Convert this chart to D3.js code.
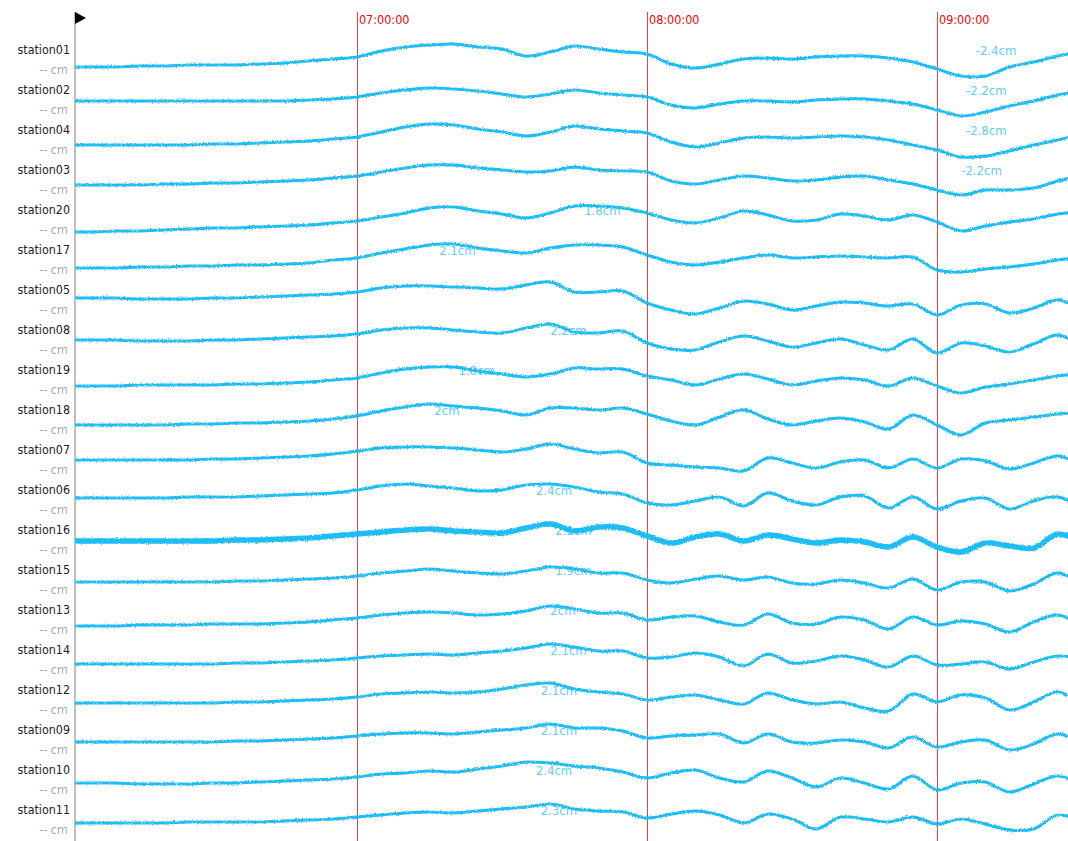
<!DOCTYPE html>
<html>
<head>
<meta charset="utf-8">
<script src="https://cdn.jsdelivr.net/npm/d3@7"></script>
<style>
  body { margin: 0; background: #fff; }
  svg { display: block; font-family: "DejaVu Sans Condensed", "DejaVu Sans", sans-serif; }
</style>
</head>
<body>
<svg id="chart" width="1068" height="841"></svg>
<script>
const stations = ["station01", "station02", "station04", "station03", "station20", "station17", "station05",
  "station08", "station19", "station18", "station07", "station06", "station16", "station15", "station13",
  "station14", "station12", "station09", "station10", "station11"];

// one sample every 5 minutes, 06:00 -> 09:30
const sampleTimes = ["06:00", "06:05", "06:10", "06:15", "06:20", "06:25", "06:30", "06:35", "06:40", "06:45",
  "06:50", "06:55", "07:00", "07:05", "07:10", "07:15", "07:20", "07:25", "07:30", "07:35", "07:40", "07:45",
  "07:50", "07:55", "08:00", "08:05", "08:10", "08:15", "08:20", "08:25", "08:30", "08:35", "08:40", "08:45",
  "08:50", "08:55", "09:00", "09:05", "09:10", "09:15", "09:20", "09:25", "09:30"];

// displacement per station (same order as sampleTimes)
const station01 = [-1, -1, -1, 0, 0, 1, 1, 1, 2, 3, 5, 7, 9, 15, 19, 21, 22, 19, 17, 10, 14, 20, 17, 14, 12, 2, -2, 2, 7, 8, 7, 9, 10, 10, 8, 4, -3, -10, -10, -1, 4, 10, 15];
const station02 = [5, 5, 5, 5, 5, 5, 5, 5, 5, 5, 6, 7, 9, 13, 16, 18, 17, 15, 12, 9, 12, 16, 13, 11, 9, 1, -2, 2, 5, 5, 4, 6, 7, 7, 5, 2, -4, -10, -6, 0, 5, 11, 15];
const station04 = [1, 1, 1, 1, 1, 1, 2, 2, 3, 4, 5, 7, 9, 14, 19, 22, 21, 17, 14, 10, 14, 20, 17, 15, 13, 4, -1, 3, 8, 9, 8, 9, 10, 9, 6, 1, -4, -11, -10, -5, 1, 6, 12];
const station03 = [1, 1, 1, 1, 2, 2, 3, 3, 4, 5, 6, 8, 10, 14, 18, 21, 21, 18, 16, 14, 15, 19, 16, 15, 14, 5, 2, 6, 10, 8, 5, 6, 9, 10, 6, 2, -4, -9, -4, -4, -2, 5, 11];
const station20 = [-6, -6, -5, -5, -4, -3, -2, -2, -1, 0, 1, 3, 5, 9, 13, 18, 19, 15, 12, 8, 13, 20, 20, 18, 13, 6, 3, 8, 15, 11, 5, 6, 12, 10, 6, 11, 4, -5, 0, 4, 7, 12, 14];
const station17 = [-2, -2, -2, -1, -1, 0, 0, 1, 1, 2, 3, 6, 8, 13, 17, 21, 22, 18, 15, 13, 18, 21, 21, 19, 11, 4, 1, 4, 8, 11, 8, 9, 10, 9, 8, 9, -4, -6, -3, -1, 2, 6, 9];
const station05 = [8, 8, 8, 7, 7, 7, 8, 8, 9, 10, 11, 12, 14, 18, 20, 20, 19, 18, 17, 21, 24, 14, 14, 15, 3, -4, -8, -2, 5, 2, -4, 0, 4, 3, 0, 2, -9, 1, 2, -7, -2, 6, -5];
const station08 = [6, 6, 6, 5, 5, 5, 6, 6, 7, 8, 9, 10, 12, 16, 18, 18, 16, 14, 13, 18, 22, 14, 13, 15, 3, -3, -4, 4, 10, 5, -1, 3, 7, 1, -4, 7, -7, 3, 0, -6, 2, 11, -1];
const station19 = [0, 0, 0, 1, 1, 1, 1, 2, 2, 3, 4, 6, 8, 13, 17, 19, 19, 15, 12, 9, 12, 18, 17, 17, 10, 6, 1, 7, 12, 7, 1, 5, 8, 6, 0, 8, 0, -7, -1, 2, 6, 10, 12];
const station18 = [1, 1, 1, 1, 1, 2, 2, 3, 3, 4, 5, 7, 10, 15, 19, 22, 20, 18, 15, 11, 18, 18, 16, 18, 12, 5, 1, 9, 16, 7, 1, 5, 8, 4, -3, 11, 1, -9, 3, 6, 9, 12, 14];
const station07 = [6, 6, 6, 6, 6, 6, 7, 7, 8, 9, 10, 12, 15, 18, 19, 19, 18, 16, 14, 17, 22, 17, 13, 14, 3, 1, -1, -2, -5, 8, 3, -2, 4, 6, -2, 7, -2, 7, 5, -3, 3, 10, 0];
const station06 = [8, 8, 8, 8, 8, 9, 9, 9, 10, 11, 12, 13, 16, 20, 22, 20, 18, 15, 16, 21, 22, 19, 14, 12, 3, 1, 5, 9, 0, 13, 5, 1, 9, 10, -2, 9, -3, 5, 8, -3, 5, 9, -2];
const station16 = [5, 5, 5, 5, 5, 5, 5, 6, 6, 7, 8, 10, 12, 14, 16, 17, 15, 14, 13, 18, 22, 15, 19, 18, 10, 3, 9, 12, 5, 11, 7, 3, 6, 4, -1, 9, -1, -6, 3, 0, -2, 12, 3];
const station15 = [4, 4, 4, 4, 4, 4, 4, 5, 5, 6, 7, 8, 10, 13, 15, 17, 15, 13, 12, 15, 19, 17, 13, 13, 6, 3, 7, 10, 6, 9, 3, 2, 6, 3, -2, 7, -4, 4, 4, -5, 2, 13, 1];
const station13 = [0, 0, 0, 1, 1, 1, 2, 2, 2, 3, 4, 6, 8, 11, 13, 14, 13, 11, 12, 15, 20, 17, 13, 13, 6, 9, 10, 4, 1, 12, 3, 2, 9, 6, -3, 9, 1, 5, 2, -6, 4, 11, 0];
const station14 = [2, 2, 2, 2, 2, 2, 2, 3, 3, 4, 5, 6, 8, 10, 11, 12, 11, 13, 15, 18, 22, 19, 15, 15, 8, 9, 13, 9, 0, 12, 3, 5, 10, 6, -1, 10, 1, 2, 4, -3, 4, 10, 7];
const station12 = [3, 3, 3, 3, 3, 3, 3, 4, 4, 5, 6, 7, 9, 12, 13, 14, 13, 14, 17, 21, 23, 17, 14, 12, 6, 9, 11, 6, 2, 13, 6, 2, 4, -2, -5, 12, 4, 11, 8, -4, 4, 14, 2];
const station09 = [4, 4, 4, 4, 4, 4, 4, 5, 5, 6, 7, 8, 10, 12, 13, 13, 12, 14, 16, 18, 22, 18, 18, 15, 8, 10, 11, 12, 3, 12, 4, 3, 6, 4, -2, 9, -1, 4, 6, -4, 2, 12, 2];
const station10 = [3, 3, 3, 2, 2, 2, 3, 3, 4, 5, 6, 7, 9, 12, 13, 15, 14, 17, 20, 24, 23, 20, 18, 14, 8, 13, 16, 8, 4, 15, 8, -1, 8, 3, -3, 10, -4, 3, 4, -6, 2, 10, 1];
const station11 = [3, 3, 3, 3, 3, 4, 4, 4, 4, 5, 6, 7, 9, 11, 13, 14, 13, 15, 17, 19, 22, 17, 15, 14, 8, 12, 15, 11, 3, 12, 7, -3, 9, 7, 4, 9, 2, 7, 2, -4, -3, 11, 4];

const series = [station01, station02, station04, station03, station20, station17, station05, station08,
  station19, station18, station07, station06, station16, station15, station13, station14, station12,
  station09, station10, station11];

// extreme-value notes drawn on each row ("" = none)
const peakTexts = ["-2.4cm", "-2.2cm", "-2.8cm", "-2.2cm", "1.8cm", "2.1cm", "", "2.2cm", "1.8cm", "2cm",
  "", "2.4cm", "2.1cm", "1.9cm", "2cm", "2.1cm", "2.1cm", "2.1cm", "2.4cm", "2.3cm"];
const peakTimes = ["09:08", "09:06", "09:06", "09:05", "07:47", "07:17", "07:40", "07:40", "07:21", "07:16",
  "07:37", "07:37", "07:41", "07:41", "07:40", "07:40", "07:38", "07:38", "07:37", "07:38"];

const markerTimes = ["07:00:00", "08:00:00", "09:00:00"];

const svg = d3.select("#chart");
const width = +svg.attr("width");
const height = +svg.attr("height");
const margin = { top: 12, left: 75 };

const parseHM = d3.timeParse("%H:%M");
const parseHMS = d3.timeParse("%H:%M:%S");

const xScale = d3.scaleTime()
  .domain([parseHMS("06:01:40"), parseHMS("09:27:06")])
  .range([margin.left, width]);

// row positions: name line and trace baseline
const rowScale = d3.scalePoint().domain(stations).range([50, 810]);
const dispScale = d3.scaleLinear().domain([-10, 10]).range([10, -10]);

const defs = svg.append("defs");
defs.append("clipPath").attr("id", "plot-clip")
  .append("rect").attr("x", margin.left).attr("y", 0).attr("width", width - margin.left).attr("height", height);

// rough edge on the traces, like a noisy signal
const filter = defs.append("filter").attr("id", "jitter")
  .attr("filterUnits", "userSpaceOnUse")
  .attr("x", 0).attr("y", 0).attr("width", width).attr("height", height);
filter.append("feTurbulence").attr("type", "fractalNoise").attr("baseFrequency", "0.8 0.6")
  .attr("numOctaves", 2).attr("seed", 7).attr("result", "noise");
filter.append("feDisplacementMap").attr("in", "SourceGraphic").attr("in2", "noise")
  .attr("scale", 3).attr("xChannelSelector", "R").attr("yChannelSelector", "G");

// left axis line + flag
svg.append("line")
  .attr("x1", margin.left).attr("x2", margin.left)
  .attr("y1", margin.top).attr("y2", height)
  .attr("stroke", "#aaa").attr("stroke-width", 1.5);
svg.append("path")
  .attr("d", `M${margin.left},${margin.top} L${margin.left + 11},${margin.top + 6} L${margin.left},${margin.top + 12} Z`)
  .attr("fill", "#000");

// hour markers
const markers = svg.append("g").attr("class", "markers");
markers.selectAll("line")
  .data(markerTimes)
  .enter().append("line")
  .attr("x1", d => Math.round(xScale(parseHMS(d))) + 0.5)
  .attr("x2", d => Math.round(xScale(parseHMS(d))) + 0.5)
  .attr("y1", margin.top).attr("y2", height)
  .attr("stroke", "#e8424a").attr("stroke-width", 1);
markers.selectAll("text")
  .data(markerTimes)
  .enter().append("text")
  .attr("x", d => xScale(parseHMS(d)) + 2)
  .attr("y", 20)
  .attr("dy", "0.35em")
  .attr("fill", "#f00")
  .attr("font-size", 12.5)
  .text(d => d);

const rows = stations.map((name, i) => ({
  name,
  values: series[i],
  peakText: peakTexts[i],
  peakTime: parseHM(peakTimes[i])
}));

// peak notes sit under the traces
svg.append("g").attr("class", "peaks")
  .selectAll("text")
  .data(rows.filter(d => d.peakText))
  .enter().append("text")
  .attr("x", d => xScale(d.peakTime))
  .attr("y", d => rowScale(d.name))
  .attr("dy", "0.35em")
  .attr("fill", "#66cbf8")
  .attr("font-size", 13)
  .text(d => d.peakText);

const line = d3.line()
  .x((v, i) => xScale(parseHM(sampleTimes[i])))
  .curve(d3.curveCatmullRom.alpha(0.5));

svg.append("g").attr("class", "traces")
  .attr("clip-path", "url(#plot-clip)")
  .selectAll("path")
  .data(rows)
  .enter().append("path")
  .attr("d", d => line.y(v => rowScale(d.name) + 16 + dispScale(v))(d.values))
  .attr("fill", "none")
  .attr("stroke", "#1ebdfb")
  .attr("stroke-width", d => d.name === "station16" ? 5.5 : 3)
  .attr("stroke-linejoin", "round")
  .attr("filter", "url(#jitter)");

// station names and live value
const labels = svg.append("g").attr("class", "labels");
labels.selectAll("text.name")
  .data(rows)
  .enter().append("text")
  .attr("class", "name")
  .attr("x", 70)
  .attr("y", d => rowScale(d.name))
  .attr("dy", "0.35em")
  .attr("text-anchor", "end")
  .attr("fill", "#222")
  .attr("font-size", 12.4)
  .text(d => d.name);
labels.selectAll("text.unit")
  .data(rows)
  .enter().append("text")
  .attr("class", "unit")
  .attr("x", 68)
  .attr("y", d => rowScale(d.name) + 20)
  .attr("dy", "0.35em")
  .attr("text-anchor", "end")
  .attr("fill", "#aaa")
  .attr("font-size", 12.5)
  .text("-- cm");
</script>
</body>
</html>
